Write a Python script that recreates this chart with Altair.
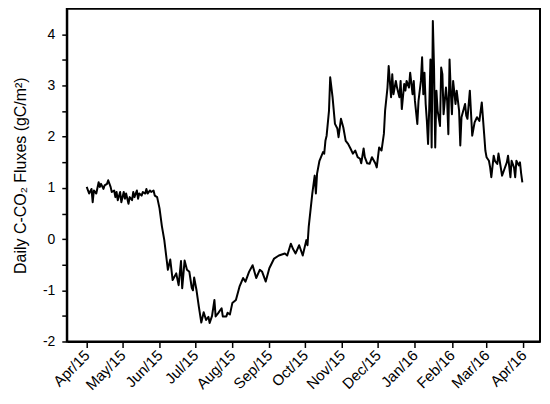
import altair as alt
import pandas as pd

# Day offsets from 1 Apr 2015 and daily C-CO2 flux values
day_offset = [0, 2, 4, 5, 6, 8, 10, 11, 12, 14, 15, 17, 18, 20, 21, 23, 24, 25, 26, 28,
              29, 31, 32, 33, 35, 36, 38, 39, 40, 42, 43, 44, 46, 47, 49, 50, 51, 53, 54, 56,
              57, 59, 61, 63, 65, 68, 70, 72, 75, 77, 79, 80, 82, 84, 86, 88, 89, 90, 92, 94,
              96, 98, 100, 102, 103, 105, 107, 108, 110, 113, 114, 117, 118, 120, 122, 125, 128, 131, 133, 136,
              139, 142, 145, 147, 150, 153, 157, 161, 166, 168, 171, 173, 175, 178, 181, 184, 185, 186, 189, 191,
              192, 193, 195, 198, 199, 200, 201, 203, 204, 206, 208, 210, 211, 213, 215, 217, 219, 221, 223, 225,
              227, 229, 230, 232, 233, 235, 237, 239, 242, 243, 245, 247, 249, 250, 252, 253, 255, 256, 257, 259,
              260, 262, 263, 264, 266, 267, 268, 270, 271, 273, 274, 275, 277, 278, 280, 281, 282, 283, 284, 285,
              286, 287, 288, 289, 290, 291, 292, 293, 294, 296, 297, 298, 299, 301, 302, 303, 304, 305, 306, 307,
              309, 310, 312, 313, 314, 317, 318, 319, 321, 323, 325, 327, 329, 331, 333, 334, 335, 337, 338, 339,
              341, 342, 344, 345, 346, 348, 350, 352, 353, 355, 356, 358, 359, 360, 362, 363, 364, 365]
flux = [1.02, 0.89, 0.98, 0.72, 0.95, 0.89, 1.11, 1.02, 1.08, 0.98, 1.05, 1.08, 1.15, 1.02, 0.92, 0.95, 0.82, 0.92, 0.76, 0.92,
        0.72, 0.92, 0.79, 0.89, 0.69, 0.82, 0.76, 0.92, 0.82, 0.95, 0.79, 0.89, 0.85, 0.92, 0.89, 0.98, 0.89, 0.95, 0.92, 0.95,
        0.85, 0.82, 0.60, 0.25, -0.02, -0.60, -0.40, -0.80, -0.67, -0.90, -0.43, -0.96, -0.42, -0.60, -0.64, -0.95, -1.00, -0.75, -1.00, -1.33,
        -1.63, -1.43, -1.58, -1.52, -1.64, -1.50, -1.19, -1.51, -1.45, -1.35, -1.51, -1.51, -1.44, -1.47, -1.25, -1.19, -0.93, -0.76, -0.83, -0.64,
        -0.51, -0.76, -0.60, -0.64, -0.83, -0.57, -0.38, -0.32, -0.28, -0.32, -0.09, -0.20, -0.28, -0.12, -0.32, -0.02, -0.12, 0.24, 0.89, 1.24,
        0.89, 1.28, 1.53, 1.70, 1.67, 1.92, 2.02, 2.51, 3.16, 2.77, 2.25, 2.16, 1.99, 2.35, 2.18, 1.92, 1.86, 1.77, 1.67, 1.73,
        1.60, 1.57, 1.48, 1.77, 1.60, 1.48, 1.47, 1.60, 1.47, 1.40, 1.79, 1.73, 2.06, 2.51, 2.96, 3.38, 2.77, 3.22, 2.83, 3.09,
        2.96, 2.77, 3.09, 2.54, 3.03, 2.90, 3.09, 2.96, 3.25, 2.83, 3.09, 2.70, 2.25, 2.70, 3.09, 3.55, 2.83, 3.25, 2.64, 2.31,
        1.86, 2.57, 3.51, 1.79, 4.26, 3.35, 1.79, 2.90, 2.51, 2.21, 3.35, 3.22, 2.44, 2.96, 2.70, 2.05, 3.51, 2.90, 2.44, 3.09,
        2.64, 2.90, 2.51, 1.83, 2.38, 2.64, 2.41, 2.35, 2.90, 2.02, 2.28, 2.38, 2.31, 2.67, 2.05, 1.73, 1.60, 1.53, 1.40, 1.21,
        1.63, 1.53, 1.47, 1.67, 1.53, 1.24, 1.37, 1.50, 1.63, 1.21, 1.53, 1.40, 1.21, 1.53, 1.44, 1.50, 1.28, 1.11]

# Axis ticks
tick_years = [2015] * 9 + [2016] * 4
tick_months = [4, 5, 6, 7, 8, 9, 10, 11, 12, 1, 2, 3, 4]
y_ticks = [-2, -1.5, -1, -0.5, 0, 0.5, 1, 1.5, 2, 2.5, 3, 3.5, 4]

start = pd.Timestamp("2015-04-01")
df = pd.DataFrame({
    "date": start + pd.to_timedelta(day_offset, unit="D"),
    "flux": flux,
})

x_values = [alt.DateTime(year=yy, month=mm, date=1) for yy, mm in zip(tick_years, tick_months)]

FONT = "Liberation Sans"

chart = alt.Chart(df).mark_line(color="black", strokeWidth=2, strokeJoin="round").encode(
    x=alt.X(
        "date:T",
        scale=alt.Scale(domain=[alt.DateTime(year=2015, month=3, date=15, hours=7),
                                alt.DateTime(year=2016, month=4, date=14, hours=19)]),
        axis=alt.Axis(values=x_values, format="%b/%y", labelAngle=-45, labelAlign="right",
                      labelBaseline="middle", labelOverlap=False, title=None, grid=False,
                      tickSize=6, tickWidth=1.5, tickColor="black", domainColor="black",
                      domainWidth=2, labelFontSize=15, labelFont=FONT, labelColor="black",
                      labelPadding=5),
    ),
    y=alt.Y(
        "flux:Q",
        scale=alt.Scale(domain=[-2, 4.5], nice=False, zero=False),
        axis=alt.Axis(values=y_ticks, labelOverlap=False,
                      labelExpr="datum.value % 1 === 0 ? '' + datum.value : ''",
                      title="Daily C-CO₂ Fluxes (gC/m²)", grid=False, tickSize=5,
                      tickWidth=1.5, tickColor="black", domainColor="black", domainWidth=2,
                      labelFontSize=14, labelFont=FONT, labelColor="black", labelPadding=7,
                      titleFont=FONT, titleFontSize=16, titleFontWeight="normal",
                      titleColor="black", titlePadding=14),
    ),
).properties(
    width=475,
    height=334,
    autosize=alt.AutoSizeParams(type="none"),
    padding={"left": 59, "top": 0, "right": 2, "bottom": 58},
).configure_view(stroke="black", strokeWidth=2)

chart.save("out.html", embed_options={"renderer": "svg", "actions": False})
